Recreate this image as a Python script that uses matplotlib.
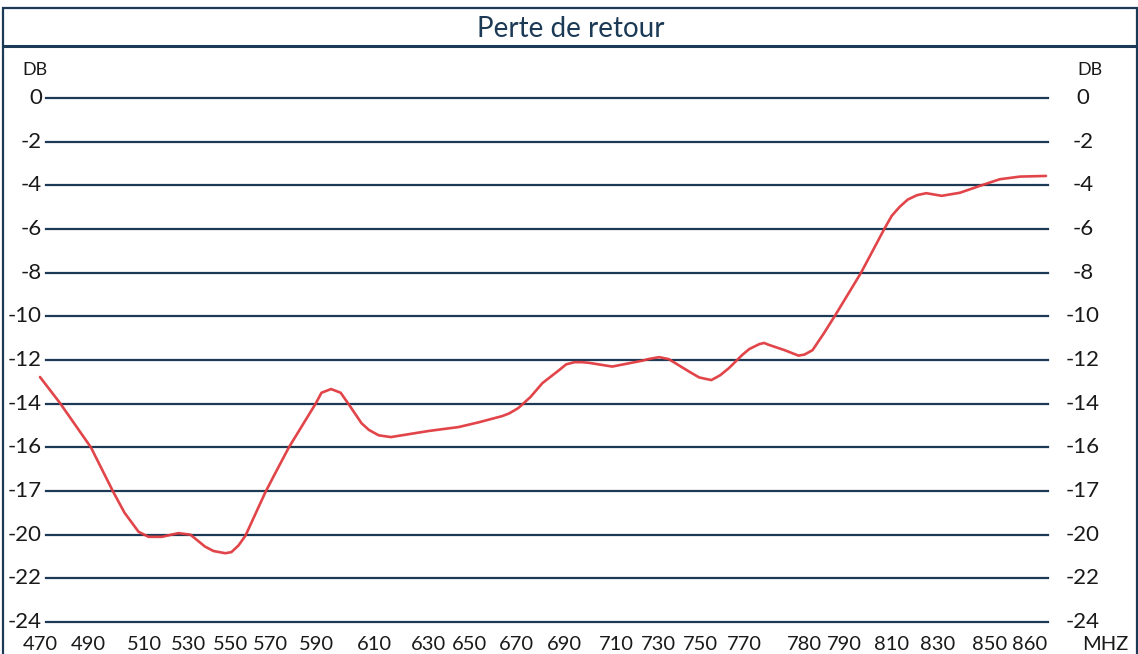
import numpy as np
import matplotlib
matplotlib.use("Agg")
import matplotlib.pyplot as plt
import matplotlib.transforms as mtransforms
from matplotlib.patches import Rectangle
from matplotlib.lines import Line2D

# ---------------- data ----------------
title = "Perte de retour"
unit_y = "DB"
unit_x = "MHZ"

# x tick labels (MHz) as printed on the chart (irregularly spaced)
tick_freq = [470, 490, 510, 530, 550, 570, 590, 610, 630, 650, 670, 690,
             710, 730, 750, 770, 780, 790, 810, 830, 850, 860]
# y grid levels and the labels printed next to them
grid_levels = [0, -2, -4, -6, -8, -10, -12, -14, -16, -18, -20, -22, -24]
grid_labels = ["0", "-2", "-4", "-6", "-8", "-10", "-12", "-14", "-16", "-17",
               "-20", "-22", "-24"]

# return loss curve (MHz, dB on the chart's grid scale)
freq = [470, 478.3, 491, 499, 503, 508, 512, 518, 525.5, 531, 538, 542,
        547.6, 550.5, 554, 557.5, 567.5, 572, 578, 589.6, 591.7, 595, 598.3,
        601.7, 605.5, 608, 611.5, 616, 630, 644.6, 654, 664, 667, 671, 676,
        681, 688, 690.8, 694, 697, 699.6, 708.5, 722, 725.7, 730.5, 735, 745,
        749.5, 755, 759, 763, 769, 770.8, 772.5, 773.3, 774, 776.7, 779, 780,
        782, 784.75, 787.5, 797, 807, 810, 813.5, 817, 821, 825, 831.5, 838.5,
        847, 852.5, 857.5, 864]
loss = [-12.78, -13.97, -16.0, -18.05, -19.0, -19.87, -20.1, -20.1, -19.93,
        -20.0, -20.55, -20.75, -20.85, -20.8, -20.5, -20.05, -18.05, -17.2,
        -16.0, -14.0, -13.5, -13.33, -13.5, -14.15, -14.9, -15.2, -15.45,
        -15.53, -15.25, -15.07, -14.85, -14.57, -14.45, -14.2, -13.7, -13.06,
        -12.46, -12.2, -12.1, -12.1, -12.13, -12.3, -12.04, -11.95, -11.87,
        -11.96, -12.55, -12.8, -12.92, -12.7, -12.37, -11.77, -11.5, -11.27,
        -11.22, -11.3, -11.55, -11.8, -11.75, -11.55, -10.8, -10.0, -8.0,
        -5.97, -5.4, -4.98, -4.65, -4.45, -4.36, -4.48, -4.34, -3.99, -3.72,
        -3.6, -3.57]

# ---------------- layout (pixels) ----------------
W, H = 1138, 654
tick_px = [42, 90, 146, 190, 232, 272, 318, 376, 430, 471, 517, 565,
           617, 659, 701, 745, 805, 845, 892, 938, 990, 1030]
map_freq = tick_freq + [865]
map_px = tick_px + [1050]

NAVY = "#1c3a56"
RED = "#e03b3f"
TXT = "#1a1a1a"
FONT = "Lato"

fig = plt.figure(figsize=(W / 100, H / 100), dpi=100)
fig.patch.set_facecolor("white")


def fx(px):
    return px / W


def fy(py):
    return 1 - py / H


# axes: x pixels 40..1050, y pixels 98 (0 dB) .. 622 (-24 dB)
ax_l, ax_r = 40, 1050
ax_t, ax_b = 98, 622
ax = fig.add_axes([fx(ax_l), fy(ax_b), fx(ax_r - ax_l), (ax_b - ax_t) / H])
ax.set_facecolor("none")


def fwd(f):
    return np.interp(f, map_freq, map_px)


def inv(p):
    return np.interp(p, map_px, map_freq)


ax.set_xscale("function", functions=(fwd, inv))
ax.set_xlim(inv(ax_l), inv(ax_r))
ax.set_ylim(-24, 0)
for s in ax.spines.values():
    s.set_visible(False)
ax.tick_params(left=False, bottom=False, labelleft=False, labelbottom=False)

# grid lines from pixel 46 to 1048
g0 = (46 - ax_l) / (ax_r - ax_l)
g1 = (1048 - ax_l) / (ax_r - ax_l)
for lv in grid_levels:
    ax.axhline(lv, xmin=g0, xmax=g1, color=NAVY, lw=1.6, zorder=1, clip_on=False)

# curve
ax.plot(freq, loss, color=RED, lw=1.9, zorder=3, clip_on=False,
        solid_capstyle="round", solid_joinstyle="round", alpha=0.95)

# y labels left and right
tr = mtransforms.blended_transform_factory(fig.transFigure, ax.transData)
for lv, lab in zip(grid_levels, grid_labels):
    ax.text(fx(42), lv, lab, transform=tr, ha="right", va="center",
            fontsize=16, color=TXT, family=FONT, clip_on=False)
    ax.text(fx(1083), lv, lab, transform=tr, ha="center", va="center",
            fontsize=16, color=TXT, family=FONT, clip_on=False)

# unit labels
fig.text(fx(35), fy(70), unit_y, ha="center", va="center", fontsize=13,
         color=TXT, family=FONT)
fig.text(fx(1090), fy(70), unit_y, ha="center", va="center", fontsize=13,
         color=TXT, family=FONT)

# x tick labels
trx = mtransforms.blended_transform_factory(ax.transData, fig.transFigure)
for f in tick_freq:
    ax.text(f, fy(644), str(f), transform=trx, ha="center", va="center",
            fontsize=14.5, color=TXT, family=FONT, clip_on=False)
fig.text(fx(1105), fy(644), unit_x, ha="center", va="center", fontsize=14.5,
         color=TXT, family=FONT)

# frame and title bar
fig.add_artist(Rectangle((fx(3), fy(660)), fx(1134), (660 - 8) / H,
                         fill=False, edgecolor=NAVY, lw=1.6,
                         transform=fig.transFigure))
fig.add_artist(Line2D([fx(3), fx(1137)], [fy(46), fy(46)], color=NAVY, lw=2.2,
                      transform=fig.transFigure))
fig.text(fx(571), fy(29), title, ha="center", va="center", fontsize=20,
         color=NAVY, family=FONT)

fig.savefig("out.png", dpi=100, facecolor="white")
